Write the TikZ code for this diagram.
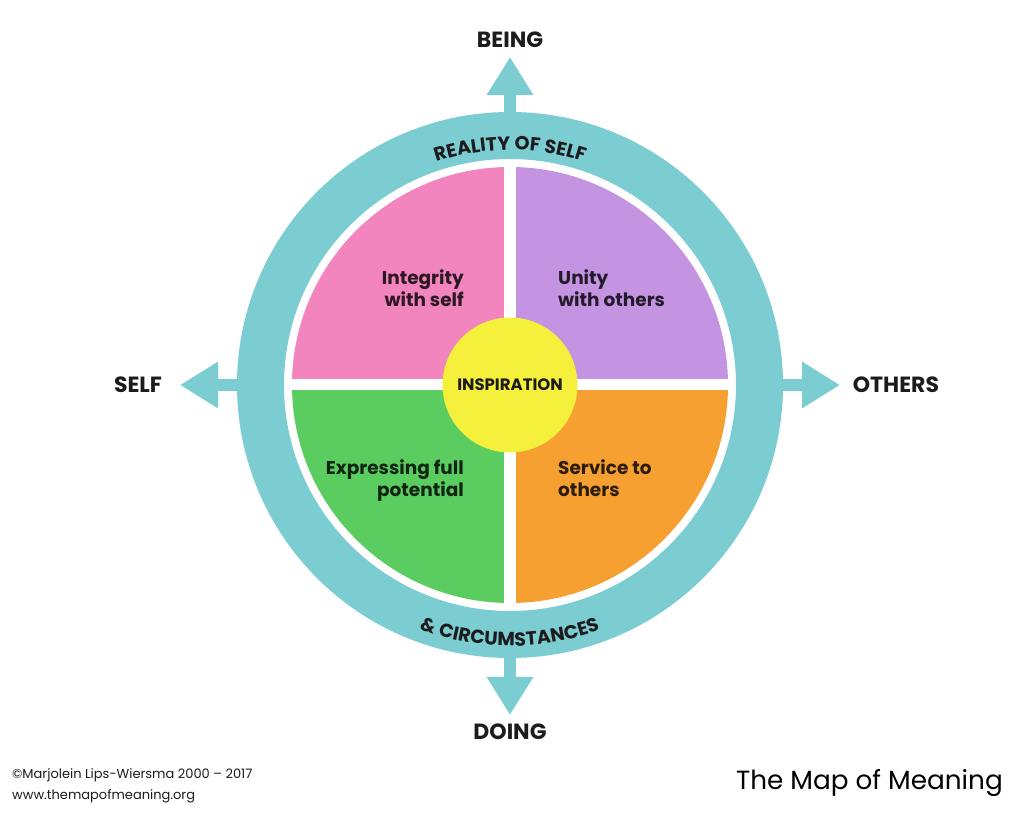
\documentclass[tikz,border=0pt]{standalone}
\usepackage{fontspec}
\setmainfont{Poppins}
\usetikzlibrary{arrows.meta,decorations.text}
\definecolor{ringcol}{RGB}{124,205,210}
\definecolor{pinkq}{RGB}{242,132,190}
\definecolor{purpleq}{RGB}{196,148,227}
\definecolor{greenq}{RGB}{90,204,96}
\definecolor{orangeq}{RGB}{247,160,50}
\definecolor{yellowq}{RGB}{245,240,60}
\definecolor{ink}{RGB}{28,28,30}
\tikzset{
  dirarrow/.style={draw=ringcol, line width=12pt, -{Triangle[width=44pt,length=38pt]}},
  dirlabel/.style={font=\bfseries\fontsize{22}{22}\selectfont, text=ink, inner sep=0pt},
  quadtext/.style={font=\bfseries\fontsize{18.5}{22}\selectfont, inner sep=0pt},
  foot/.style={font=\fontsize{13}{13}\selectfont, text=ink, inner sep=0pt, anchor=base west}
}
\begin{document}
\begin{tikzpicture}[x=1pt,y=1pt]
\useasboundingbox (0,0) rectangle (1024,816);
\fill[white] (0,0) rectangle (1024,816);
\coordinate (C) at (510,431);
% outer ring
\fill[ringcol, even odd rule] (C) circle[radius=273] (C) circle[radius=226];
% arrows
\coordinate (nBase) at (510,690);
\coordinate (nTip) at (510,759);
\coordinate (sBase) at (510,172);
\coordinate (sTip) at (510,101);
\coordinate (wBase) at (250,431);
\coordinate (wTip) at (180,431);
\coordinate (eBase) at (770,431);
\coordinate (eTip) at (840,431);
\draw[dirarrow] (nBase) -- (nTip);
\draw[dirarrow] (sBase) -- (sTip);
\draw[dirarrow] (wBase) -- (wTip);
\draw[dirarrow] (eBase) -- (eTip);
% quadrants
\fill[pinkq]   (C) -- ++(180:218) arc[start angle=180,end angle=90,radius=218] -- cycle;
\fill[purpleq] (C) -- ++(90:218) arc[start angle=90,end angle=0,radius=218] -- cycle;
\fill[orangeq] (C) -- ++(0:218) arc[start angle=0,end angle=-90,radius=218] -- cycle;
\fill[greenq]  (C) -- ++(270:218) arc[start angle=270,end angle=180,radius=218] -- cycle;
\fill[white] (504,210) rectangle (516,652);
\fill[white] (289,425.5) rectangle (731,436.5);
% centre
\node[circle, fill=yellowq, minimum size=135pt, inner sep=0pt, text=ink,
      font=\bfseries\fontsize{16.5}{16.5}\selectfont] (insp) at (C) {INSPIRATION};
% ring texts
\path[decorate, decoration={text along path, text align=center,
   text={|\bfseries\fontsize{19}{19}\selectfont\color{ink}|REALITY OF SELF}}]
   ([shift={(150:235)}]C) arc[start angle=150,end angle=30,radius=235];
\path[decorate, decoration={text along path, text align=center,
   text={|\bfseries\fontsize{19}{19}\selectfont\color{ink}|{\&} CIRCUMSTANCES}}]
   ([shift={(210:261)}]C) arc[start angle=210,end angle=330,radius=261];
% direction labels
\node[dirlabel] (being) at (510,776) {BEING};
\node[dirlabel] (doing) at (510,84) {DOING};
\node[dirlabel] (self) at (138,431) {SELF};
\node[dirlabel] (others) at (896,431) {OTHERS};
% quadrant texts
\node[quadtext, align=right, anchor=base east, text=black!82!pinkq] (q1) at (464,509) {Integrity\\with self};
\node[quadtext, align=left, anchor=base west, text=black!82!purpleq] (q2) at (558,509) {Unity\\with others};
\node[quadtext, align=right, anchor=base east, text=black!82!greenq] (q3) at (464,319) {Expressing full\\potential};
\node[quadtext, align=left, anchor=base west, text=black!82!orangeq] (q4) at (558,319) {Service to\\others};
% footer
\node[foot] (copy) at (12,38) {©Marjolein Lips-Wiersma 2000 – 2017};
\node[foot] (web) at (12,17) {www.themapofmeaning.org};
\node[font=\fontsize{26.3}{26.3}\selectfont, text=black, inner sep=0pt, anchor=base east] (title) at (1003,27) {The Map of Meaning};
\end{tikzpicture}
\end{document}
